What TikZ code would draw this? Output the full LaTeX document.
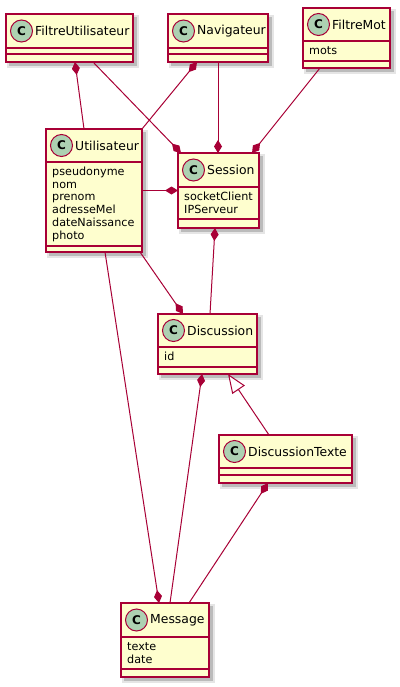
\documentclass[tikz,border=0pt]{standalone}
\usepackage{fontspec}
\setmainfont{DejaVu Sans}
\usetikzlibrary{arrows.meta}

\definecolor{umlfill}{HTML}{FEFECE}
\definecolor{umlred}{HTML}{A80036}
\definecolor{umlcirc}{HTML}{ADD1B2}

\tikzset{
  classbox/.style={draw=umlred, fill=umlfill, line width=1.4pt, inner sep=0pt, outer sep=0pt},
  classline/.style={draw=umlred, line width=1.4pt},
  shadowA/.style={fill=black, opacity=0.10},
  shadowB/.style={fill=black, opacity=0.18},
  stereocircle/.style={circle, draw=umlred, line width=1pt, fill=umlcirc, minimum size=22pt,
    inner sep=0pt, font=\fontsize{12}{12}\selectfont\bfseries},
  classtitle/.style={inner sep=0pt, font=\fontsize{12.4}{14}\selectfont},
  classattr/.style={inner sep=0pt, font=\fontsize{11.2}{13}\selectfont},
  rel/.style={draw=umlred, line width=1pt},
  compstart/.style={rel, {Diamond[length=13pt,width=8pt]}-},
  compend/.style={rel, -{Diamond[length=13pt,width=8pt]}},
  inherit/.style={rel, -{Triangle[open,length=19pt,width=15pt,fill=white]}}
}

% class box: id, title, left, top, right, bottom, first separator, second separator, attributes
\newcommand\umlclass[9]{%
  \fill[shadowA] ({#3+1},{#4+1}) rectangle ({#5+6},{#6+6});
  \fill[shadowB] ({#3+3},{#4+3}) rectangle ({#5+4},{#6+4});
  \node[classbox, minimum width={(#5-#3)*1pt}, minimum height={(#6-#4)*1pt}, anchor=north west] (#1) at (#3,#4) {};
  \draw[classline] (#3,#7) -- (#5,#7) (#3,#8) -- (#5,#8);
  \node[stereocircle] (#1-c) at ({#3+15.5},{(#4+#7)/2}) {C};
  \node[classtitle, anchor=west] (#1-t) at ({#3+29},{(#4+#7)/2}) {#2};
  \foreach \attr [count=\k] in {#9} {%
    \node[classattr, anchor=base west] (#1-a\k) at ({#3+6},{#7+13.5+(\k-1)*12.7}) {\attr};}%
}

\begin{document}
\begin{tikzpicture}[x=1pt,y=-1pt]
\useasboundingbox (0,0) rectangle (399,687);
\fill[white] (0,0) rectangle (399,687);

\umlclass{fu}{FiltreUtilisateur}{6}{14}{133}{62}{48}{54}{}
\umlclass{nav}{Navigateur}{168}{14}{268}{62}{48}{54}{}
\umlclass{fm}{FiltreMot}{303}{8}{390}{68}{41}{61}{mots}
\umlclass{ut}{Utilisateur}{46}{129}{142}{252}{162}{246}{pseudonyme,nom,prenom,adresseMel,dateNaissance,photo}
\umlclass{se}{Session}{178}{153}{259}{228}{187}{219}{socketClient,IPServeur}
\umlclass{di}{Discussion}{158}{314}{257}{374}{347}{367}{id}
\umlclass{dt}{DiscussionTexte}{219}{435}{352}{483}{468}{475}{}
\umlclass{me}{Message}{121}{603}{209}{677}{637}{669}{texte,date}

% compositions
\draw[compstart] ([xshift=69pt]fu.south west) -- ([xshift=38pt]ut.north west);
\draw[compend] ([xshift=87pt]fu.south west) -- ([xshift=3pt]se.north west);
\draw[compstart] ([xshift=29pt]nav.south west) -- (ut.north east);
\draw[compend] ([xshift=50pt]nav.south west) -- ([xshift=40pt]se.north west);
\draw[compend] ([xshift=17pt]fm.south west) -- ([xshift=74pt]se.north west);
\draw[compend] ([yshift=-61.5pt]ut.north east) -- ([yshift=-37.5pt]se.north west);
\draw[compstart] ([xshift=37pt]se.south west) -- ([xshift=52pt]di.north west);
\draw[compend] ([xshift=-2pt]ut.south east) -- ([xshift=25pt]di.north west);
\draw[compend] ([xshift=59pt]ut.south west) -- ([xshift=38pt]me.north west);
\draw[compstart] ([xshift=44pt]di.south west) -- ([xshift=49pt]me.north west);
\draw[compstart] ([xshift=49pt]dt.south west) -- ([xshift=68pt]me.north west);

% generalisation
\draw[inherit] ([xshift=50pt]dt.north west) -- ([xshift=70pt]di.south west);
\end{tikzpicture}
\end{document}
